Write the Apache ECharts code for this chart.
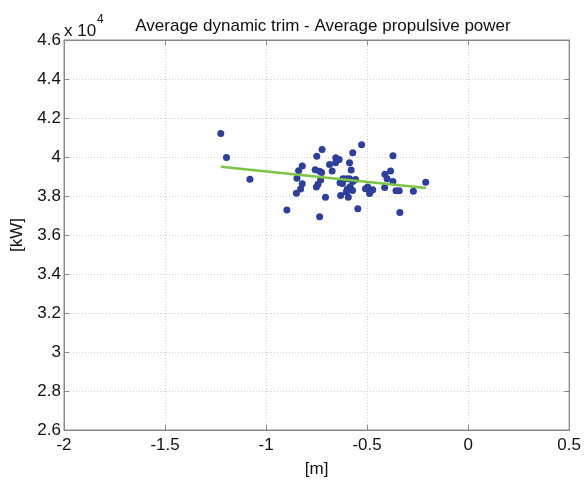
<!DOCTYPE html>
<html>
<head>
<meta charset="utf-8">
<script src="https://cdn.jsdelivr.net/npm/echarts@6/dist/echarts.min.js"></script>
<style>
html,body{margin:0;padding:0;background:#fff;}
#chart{width:584px;height:483px;}
</style>
</head>
<body>
<div id="chart"></div>
<script>
// Average dynamic trim [m]
var trimValues = [
  -1.224, -1.196, -1.080, -0.897, -0.850, -0.829, -0.821, -0.847, -0.839, -0.821,
  -0.723, -0.749, -0.757, -0.735, -0.725, -0.730, -0.743, -0.751, -0.706, -0.686,
  -0.673, -0.655, -0.638, -0.656, -0.527, -0.571, -0.587, -0.579, -0.620, -0.603,
  -0.587, -0.557, -0.634, -0.622, -0.571, -0.584, -0.598, -0.572, -0.603, -0.631,
  -0.593, -0.508, -0.497, -0.483, -0.472, -0.488, -0.546, -0.735, -0.372, -0.384,
  -0.412, -0.401, -0.372, -0.413, -0.357, -0.341, -0.271, -0.210, -0.338
];
// Average propulsive power [kW]
var powerValues = [
  41205, 39975, 38860, 37276, 38137, 38354, 38623, 38911, 39301, 39534,
  40380, 40040, 39340, 39270, 39200, 38825, 38608, 38456, 37940, 39620,
  39280, 39965, 39870, 39700, 40630, 40220, 39710, 39330, 38890, 38890,
  38890, 38850, 38680, 38640, 38740, 38470, 38350, 38280, 38200, 38025,
  37930, 38370, 38460, 38240, 38320, 38130, 37340, 36940, 40060, 39280,
  39110, 38880, 38740, 38440, 38270, 38270, 38240, 38710, 37150
];
// Linear fit line end points
var fitX = [-1.224, -0.208];
var fitY = [39500, 38410];
var xTicks = ['-2', '-1.5', '-1', '-0.5', '0', '0.5'];
var yTicks = ['2.6', '2.8', '3', '3.2', '3.4', '3.6', '3.8', '4', '4.2', '4.4', '4.6'];

var scatterData = trimValues.map(function (x, i) { return [x, powerValues[i]]; });
var lineData = fitX.map(function (x, i) { return [x, fitY[i]]; });

var FONT = 'Liberation Sans, Arial, sans-serif';
var chart = echarts.init(document.getElementById('chart'), null, {renderer: 'canvas'});
chart.setOption({
  animation: false,
  backgroundColor: '#ffffff',
  title: {
    text: 'Average dynamic trim - Average propulsive power',
    left: 318, top: 13, textAlign: 'center',
    textStyle: {fontFamily: FONT, fontSize: 17, fontWeight: 'normal', color: '#111'}
  },
  graphic: [
    {type: 'text', left: 64, top: 23, style: {text: 'x 10', font: '17px ' + FONT, fill: '#111'}},
    {type: 'text', left: 97, top: 14, style: {text: '4', font: '12px ' + FONT, fill: '#111'}}
  ],
  grid: {left: 64, right: 14, top: 40, bottom: 48, show: true, borderColor: '#888', borderWidth: 1},
  xAxis: [{
    type: 'value', min: -2, max: 0.5, interval: 0.5,
    axisLine: {show: true, onZero: false, lineStyle: {color: '#888'}},
    axisTick: {show: true, inside: true, length: 5, lineStyle: {color: '#888'}},
    axisLabel: {margin: 7, fontFamily: FONT, fontSize: 17, color: '#111',
      formatter: function (v) { return xTicks[Math.round((v + 2) / 0.5)]; }},
    splitLine: {show: true, lineStyle: {color: '#cfcfcf', type: [1, 2]}},
    name: '[m]', nameLocation: 'middle', nameGap: 31,
    nameTextStyle: {fontFamily: FONT, fontSize: 17, color: '#111'}
  }, {
    type: 'value', min: -2, max: 0.5, interval: 0.5, position: 'top',
    axisLine: {show: true, onZero: false, lineStyle: {color: '#888'}},
    axisTick: {show: true, inside: true, length: 5, lineStyle: {color: '#888'}},
    axisLabel: {show: false}, splitLine: {show: false}
  }],
  yAxis: [{
    type: 'value', min: 26000, max: 46000, interval: 2000,
    axisLine: {show: true, onZero: false, lineStyle: {color: '#888'}},
    axisTick: {show: true, inside: true, length: 5, lineStyle: {color: '#888'}},
    axisLabel: {margin: 3, fontFamily: FONT, fontSize: 17, color: '#111',
      formatter: function (v) { return yTicks[Math.round((v - 26000) / 2000)]; }},
    splitLine: {show: true, lineStyle: {color: '#cfcfcf', type: [1, 2]}},
    name: '[kW]', nameLocation: 'middle', nameGap: 38, nameRotate: 90,
    nameTextStyle: {fontFamily: FONT, fontSize: 17, color: '#111'}
  }, {
    type: 'value', min: 26000, max: 46000, interval: 2000, position: 'right',
    axisLine: {show: true, onZero: false, lineStyle: {color: '#888'}},
    axisTick: {show: true, inside: true, length: 5, lineStyle: {color: '#888'}},
    axisLabel: {show: false}, splitLine: {show: false}
  }],
  series: [{
    type: 'scatter', data: scatterData, symbolSize: 7,
    itemStyle: {color: '#2d3f9c', opacity: 1}, z: 3
  }, {
    type: 'line', data: lineData, symbol: 'none',
    lineStyle: {color: '#7cc443', width: 2.5}, z: 4
  }]
});
</script>
</body>
</html>
